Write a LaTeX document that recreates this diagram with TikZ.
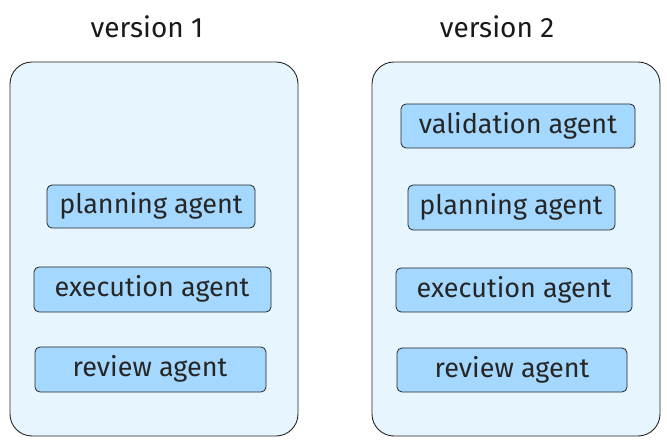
\documentclass[tikz,border=0pt]{standalone}
\usepackage{fontspec}
\setmainfont{Fira Sans}
\begin{document}
\begin{tikzpicture}[x=1pt,y=-1pt,
  cont/.style={draw=black!85,line width=0.9pt,rounded corners=22pt},
  agent/.style={draw=black!85,line width=0.8pt,fill={rgb,255:red,165;green,216;blue,255},rounded corners=5pt},
  lbl/.style={font=\fontsize{27}{30}\selectfont,text=black!85},
  title/.style={font=\fontsize{28}{32}\selectfont,text=black!90}]
\useasboundingbox (0,0) rectangle (667,446);
\definecolor{cfill}{RGB}{231,245,255}
\tikzset{cont/.append style={fill=cfill}}
\node[title] (t1) at (147,27) {version 1};
\node[title] (t2) at (497,27) {version 2};
\draw[cont] (10,62) rectangle (298,436);
\draw[cont] (372,62) rectangle (660,436);
\draw[agent] (47,185) rectangle (255,228); \node[lbl] (p1) at (151,206) {planning agent};
\draw[agent] (34,267) rectangle (271,312); \node[lbl] (e1) at (152,289) {execution agent};
\draw[agent] (35,347) rectangle (266,392); \node[lbl] (r1) at (150,369) {review agent};
\draw[agent] (401,104) rectangle (635,148); \node[lbl] (v2) at (518,126) {validation agent};
\draw[agent] (408,185) rectangle (615,230); \node[lbl] (p2) at (511,207) {planning agent};
\draw[agent] (396,268) rectangle (632,312); \node[lbl] (e2) at (514,290) {execution agent};
\draw[agent] (397,348) rectangle (627,392); \node[lbl] (r2) at (512,370) {review agent};
\end{tikzpicture}
\end{document}
